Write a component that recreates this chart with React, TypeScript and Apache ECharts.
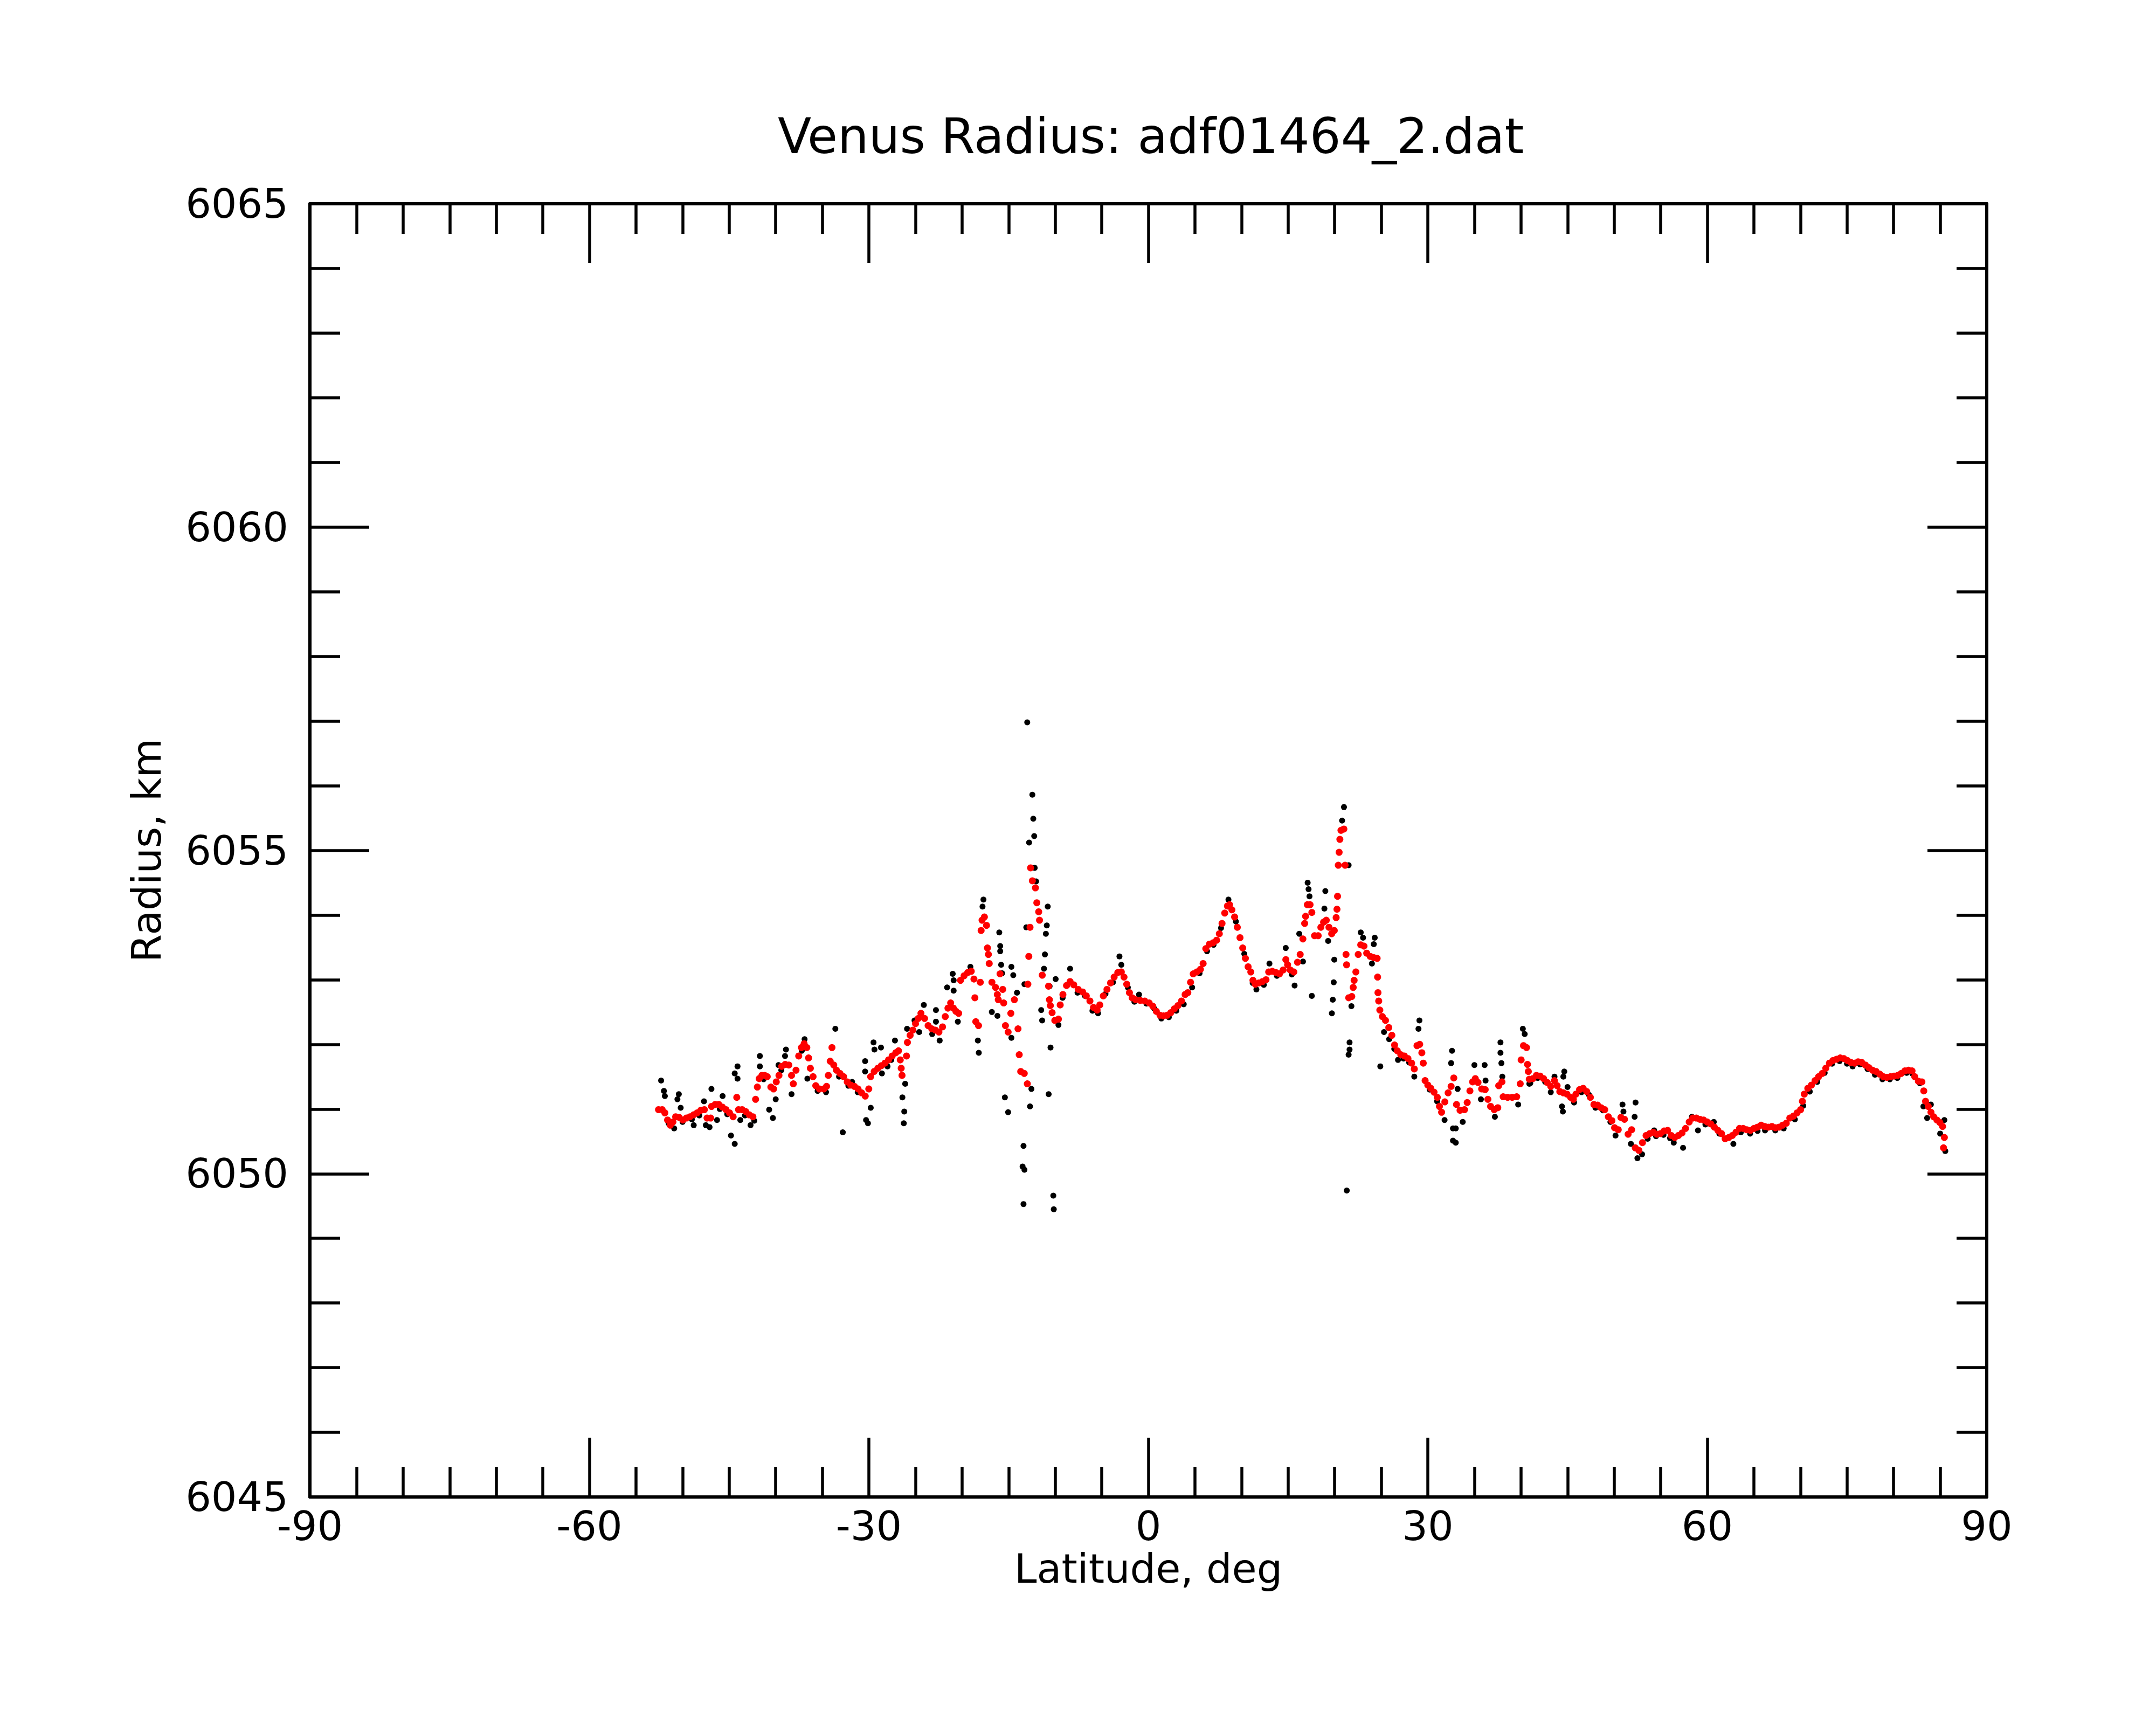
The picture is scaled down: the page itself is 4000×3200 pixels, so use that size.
import React, { useEffect, useRef } from "react";
import * as echarts from "echarts";

// Smoothed radius (red), [latitude deg, radius km]
const smoothSouth: [number, number][] = [
  [-52.58, 6050.99], [-52.19, 6050.99], [-51.9, 6050.94], [-51.61, 6050.83], [-51.32, 6050.75],
  [-51.03, 6050.8], [-50.74, 6050.88], [-50.36, 6050.87], [-49.97, 6050.83], [-49.59, 6050.86],
  [-49.2, 6050.88], [-48.81, 6050.91], [-48.43, 6050.94], [-48.04, 6050.98], [-47.66, 6050.99],
  [-47.37, 6050.86], [-46.98, 6050.86], [-46.89, 6051.04], [-46.5, 6051.07], [-46.11, 6051.07],
  [-45.73, 6051.03], [-45.34, 6050.99], [-44.96, 6050.94], [-44.57, 6050.88], [-44.18, 6051.18],
  [-43.99, 6050.99], [-43.61, 6050.99], [-43.22, 6050.96], [-42.84, 6050.91], [-42.45, 6050.88],
  [-42.16, 6051.15], [-41.97, 6051.34], [-41.77, 6051.47], [-41.48, 6051.52], [-41.19, 6051.52],
  [-40.91, 6051.5], [-40.52, 6051.34], [-40.23, 6051.31], [-39.94, 6051.42], [-39.65, 6051.52],
  [-39.36, 6051.66], [-38.98, 6051.69], [-38.59, 6051.68], [-38.3, 6051.52], [-38.11, 6051.39],
  [-37.82, 6051.6], [-37.53, 6051.82], [-37.24, 6051.95], [-36.95, 6052.01], [-36.66, 6051.95],
  [-36.47, 6051.79], [-36.28, 6051.63], [-35.99, 6051.5], [-35.7, 6051.36], [-35.31, 6051.31],
  [-34.83, 6051.31], [-34.54, 6051.35], [-34.35, 6051.52], [-34.15, 6051.74], [-33.96, 6051.95],
  [-33.77, 6051.68], [-33.48, 6051.6], [-33.1, 6051.55], [-32.71, 6051.5], [-32.32, 6051.42],
  [-31.94, 6051.37], [-31.55, 6051.35], [-31.16, 6051.31], [-30.78, 6051.25], [-30.39, 6051.2],
  [-30.01, 6051.31], [-29.81, 6051.5], [-29.43, 6051.58], [-29.04, 6051.63], [-28.66, 6051.67],
  [-28.27, 6051.71], [-27.89, 6051.76], [-27.5, 6051.82], [-27.11, 6051.87], [-26.82, 6051.9],
  [-26.63, 6051.76], [-26.53, 6051.63], [-26.44, 6051.52], [-25.96, 6051.82], [-25.86, 6052.03],
  [-25.57, 6052.14], [-25.28, 6052.22], [-24.99, 6052.32],
];

const smoothEquator: [number, number][] = [
  [-24.7, 6052.4], [-24.41, 6052.48], [-24.02, 6052.4], [-23.64, 6052.29], [-23.25, 6052.24],
  [-22.86, 6052.22], [-22.48, 6052.19], [-22.09, 6052.27], [-21.8, 6052.43], [-21.51, 6052.56],
  [-21.22, 6052.64], [-20.93, 6052.56], [-20.65, 6052.51], [-20.36, 6052.48], [-20.16, 6052.99],
  [-19.78, 6053.06], [-19.39, 6053.11], [-19.01, 6053.13], [-18.72, 6053.01], [-18.62, 6052.72],
  [-18.52, 6052.35], [-18.23, 6052.29], [-18.04, 6052.96], [-17.95, 6053.76], [-17.85, 6053.92],
  [-17.6, 6053.97], [-17.37, 6053.84], [-17.27, 6053.49], [-17.17, 6053.39], [-17.08, 6053.25],
  [-16.79, 6052.96], [-16.4, 6052.88], [-16.21, 6052.77], [-16.11, 6052.69], [-15.92, 6053.09],
  [-15.63, 6052.85], [-15.53, 6052.64], [-15.34, 6052.29], [-15.05, 6052.19], [-14.76, 6052.48],
  [-14.38, 6052.69], [-13.99, 6052.24], [-13.86, 6051.84], [-13.7, 6051.58], [-13.32, 6051.55],
  [-12.99, 6051.39], [-12.93, 6052.93], [-12.83, 6053.36], [-12.7, 6053.81], [-12.64, 6054.73],
  [-12.45, 6054.53], [-12.12, 6054.42], [-11.97, 6054.19], [-11.77, 6054.05], [-11.68, 6053.92],
  [-11.39, 6053.07], [-10.71, 6052.9], [-10.62, 6052.69], [-10.52, 6052.6], [-10.33, 6052.49],
  [-10.04, 6052.37], [-9.65, 6052.39], [-9.46, 6052.61], [-9.17, 6052.77], [-8.78, 6052.91],
  [-8.4, 6052.97], [-8.01, 6052.92], [-7.53, 6052.85], [-7.05, 6052.81], [-6.66, 6052.75],
  [-6.27, 6052.67], [-5.89, 6052.57], [-5.5, 6052.53], [-5.21, 6052.61], [-4.83, 6052.75],
  [-4.44, 6052.85], [-4.06, 6052.95], [-3.67, 6053.04], [-3.28, 6053.11], [-2.9, 6053.12],
  [-2.61, 6053.04], [-2.32, 6052.93], [-2.03, 6052.8], [-1.74, 6052.72], [-1.36, 6052.69],
  [-0.87, 6052.68], [-0.39, 6052.67], [0.09, 6052.64], [0.48, 6052.59], [0.86, 6052.51],
  [1.25, 6052.45], [1.63, 6052.44], [2.02, 6052.45], [2.41, 6052.49], [2.79, 6052.55],
  [3.18, 6052.6], [3.56, 6052.67], [3.95, 6052.77],
  [4.24, 6052.8], [4.53, 6052.96], [4.82, 6053.09], [5.21, 6053.12], [5.59, 6053.16],
  [5.88, 6053.25], [6.17, 6053.48], [6.56, 6053.55], [6.94, 6053.57], [7.33, 6053.61],
  [7.62, 6053.71], [7.91, 6053.87], [8.2, 6054.03], [8.49, 6054.14], [8.72, 6054.16],
  [8.97, 6054.08], [9.26, 6053.97], [9.55, 6053.81], [9.84, 6053.65], [10.13, 6053.49],
  [10.42, 6053.33], [10.71, 6053.2], [11.0, 6053.12], [11.23, 6052.99], [11.48, 6052.93],
  [11.86, 6052.95], [12.25, 6052.97], [12.63, 6053.0], [12.92, 6053.12], [13.31, 6053.13],
  [13.7, 6053.11], [14.08, 6053.09], [14.47, 6053.15], [14.76, 6053.31], [14.95, 6053.23],
  [15.24, 6053.15], [15.62, 6053.12], [16.01, 6053.27], [16.3, 6053.39], [16.59, 6053.63],
  [16.78, 6053.87], [16.88, 6053.98], [17.07, 6054.16], [17.36, 6054.16], [17.55, 6054.04],
  [17.84, 6053.68], [18.23, 6053.68], [18.52, 6053.81], [18.81, 6053.89], [19.1, 6053.92],
  [19.39, 6053.81], [19.68, 6053.71], [19.96, 6053.76], [20.16, 6053.96], [20.25, 6054.09],
  [20.31, 6054.29], [20.39, 6054.77], [20.48, 6054.97], [20.56, 6055.17], [20.68, 6055.31],
  [20.99, 6055.33], [21.12, 6054.77], [21.22, 6053.39], [21.28, 6053.23], [21.51, 6052.72],
  [21.84, 6052.74], [21.99, 6052.88], [22.09, 6052.99], [22.28, 6053.12], [22.53, 6053.39],
  [22.8, 6053.54], [23.15, 6053.52], [23.44, 6053.41], [23.82, 6053.36], [24.21, 6053.34],
  [24.56, 6053.33], [24.61, 6053.04], [24.65, 6052.8], [24.73, 6052.67], [24.85, 6052.53],
];

const smoothNorth: [number, number][] = [
  [25.12, 6052.43], [25.46, 6052.37], [25.81, 6052.26], [26.14, 6052.14], [26.43, 6051.99],
  [26.72, 6051.9], [27.1, 6051.84], [27.49, 6051.82], [27.87, 6051.78], [28.26, 6051.71],
  [28.55, 6051.62], [28.84, 6051.98], [29.13, 6052.0], [29.36, 6051.87], [29.51, 6051.71],
  [29.71, 6051.44], [30.0, 6051.37], [30.32, 6051.32], [30.67, 6051.26], [31.02, 6051.18],
  [31.25, 6051.04], [31.48, 6050.95], [31.83, 6051.11], [32.18, 6051.25], [32.5, 6051.35],
  [32.79, 6051.48], [33.08, 6051.07], [33.46, 6050.98], [33.94, 6050.99], [34.23, 6051.1],
  [34.52, 6051.28], [34.81, 6051.42], [35.1, 6051.47], [35.39, 6051.41], [35.78, 6051.31],
  [36.16, 6051.3], [36.45, 6051.15], [36.74, 6051.04], [37.13, 6050.99], [37.51, 6051.02],
  [37.61, 6051.36], [37.96, 6051.42], [38.09, 6051.19], [38.57, 6051.18], [39.06, 6051.18],
  [39.54, 6051.19], [39.92, 6051.39], [40.02, 6051.76], [40.27, 6051.98], [40.6, 6051.95],
  [40.7, 6051.69], [40.79, 6051.58], [40.89, 6051.46], [41.27, 6051.47], [41.66, 6051.52],
  [42.05, 6051.51], [42.43, 6051.47], [42.82, 6051.41], [43.2, 6051.35], [43.59, 6051.44],
  [43.88, 6051.36], [44.17, 6051.27], [44.55, 6051.25], [44.94, 6051.23], [45.33, 6051.18],
  [45.62, 6051.15], [45.9, 6051.23], [46.29, 6051.3], [46.68, 6051.32], [47.06, 6051.27],
  [47.45, 6051.18], [47.83, 6051.07], [48.22, 6051.06], [48.6, 6051.02], [48.99, 6050.99],
  [49.38, 6050.88], [49.76, 6050.82], [50.05, 6050.71], [50.44, 6050.68], [50.73, 6050.87],
  [51.11, 6050.84], [51.5, 6050.61], [51.88, 6050.68], [52.27, 6050.4], [52.66, 6050.36],
  [53.04, 6050.48], [53.43, 6050.59], [53.81, 6050.62], [54.2, 6050.64], [54.59, 6050.61],
  [54.97, 6050.62], [55.36, 6050.66], [55.74, 6050.67], [56.13, 6050.59], [56.51, 6050.56],
  [56.9, 6050.59], [57.29, 6050.63], [57.67, 6050.7], [58.06, 6050.8], [58.44, 6050.86],
  [58.83, 6050.86], [59.21, 6050.84], [59.6, 6050.83], [59.99, 6050.8], [60.37, 6050.77],
  [60.76, 6050.72], [61.14, 6050.67], [61.53, 6050.62], [61.92, 6050.54], [62.31, 6050.56],
  [62.69, 6050.59], [63.08, 6050.64], [63.46, 6050.7], [63.85, 6050.7], [64.23, 6050.68],
  [64.62, 6050.67], [65.01, 6050.7], [65.39, 6050.72], [65.78, 6050.75], [66.16, 6050.73],
  [66.55, 6050.72], [66.94, 6050.73], [67.32, 6050.71], [67.71, 6050.72], [68.09, 6050.75],
  [68.48, 6050.78], [68.86, 6050.86], [69.25, 6050.89], [69.64, 6050.94], [70.02, 6050.99],
  [70.21, 6051.12], [70.41, 6051.23], [70.79, 6051.32], [71.18, 6051.37], [71.57, 6051.44],
  [71.95, 6051.5], [72.34, 6051.55], [72.72, 6051.63], [73.11, 6051.71], [73.49, 6051.75],
  [73.88, 6051.77], [74.27, 6051.79], [74.65, 6051.78], [75.04, 6051.75], [75.42, 6051.72],
  [75.81, 6051.71], [76.19, 6051.73], [76.58, 6051.72], [76.97, 6051.68], [77.35, 6051.64],
  [77.74, 6051.6], [78.12, 6051.58], [78.51, 6051.54], [78.9, 6051.5], [79.28, 6051.49],
  [79.67, 6051.5], [80.05, 6051.51], [80.44, 6051.52], [80.82, 6051.55], [81.21, 6051.59],
  [81.6, 6051.6], [81.98, 6051.59], [82.27, 6051.5], [82.66, 6051.43], [83.04, 6051.42],
  [83.24, 6051.28], [83.43, 6051.12], [83.72, 6051.04], [84.01, 6050.95], [84.3, 6050.88],
  [84.65, 6050.83], [84.97, 6050.79], [85.26, 6050.73], [85.45, 6050.56], [85.36, 6050.4],
];

// Raw radius (black), [latitude deg, radius km]
const rawSouth: [number, number][] = [
  [-52.3, 6051.44], [-52.0, 6051.28], [-51.9, 6051.2], [-50.9, 6050.7], [-50.55, 6051.15],
  [-50.4, 6051.23], [-50.2, 6051.02], [-48.8, 6050.75], [-47.7, 6051.12], [-47.5, 6050.75],
  [-47.1, 6050.72], [-46.9, 6051.31], [-46.3, 6050.83], [-45.7, 6051.2], [-44.8, 6050.59],
  [-44.4, 6050.46], [-44.4, 6051.55], [-44.1, 6051.66], [-44.1, 6051.47], [-43.8, 6050.83],
  [-42.7, 6050.75], [-41.7, 6051.82], [-41.7, 6051.66], [-40.7, 6050.99], [-40.3, 6050.86],
  [-40.0, 6051.15], [-39.7, 6051.68], [-38.9, 6051.92], [-39.0, 6051.82], [-38.3, 6051.23],
  [-36.9, 6052.08], [-36.6, 6051.47], [-33.6, 6052.24], [-32.8, 6050.64], [-31.8, 6051.42],
  [-30.4, 6051.74], [-30.4, 6051.58], [-30.3, 6050.83], [-30.1, 6050.78], [-29.8, 6051.02],
  [-29.5, 6052.03], [-29.4, 6051.92], [-28.7, 6051.95], [-28.6, 6051.55], [-27.2, 6052.06],
  [-26.4, 6051.18], [-26.2, 6050.96], [-26.25, 6050.78], [-26.1, 6051.39], [-25.9, 6052.24],
  [-25.1, 6052.37],
  [-51.5, 6050.78], [-50.0, 6050.8], [-49.0, 6050.84], [-48.2, 6050.9], [-46.0, 6051.0],
  [-45.2, 6050.92], [-43.3, 6050.9], [-42.3, 6050.82], [-41.3, 6051.46], [-39.4, 6051.6],
  [-37.2, 6051.9], [-35.5, 6051.28], [-34.6, 6051.26], [-33.2, 6051.5], [-32.2, 6051.36],
  [-31.2, 6051.26], [-28.0, 6051.66], [-27.6, 6051.76],
];

const rawEquator: [number, number][] = [
  [-24.1, 6052.61], [-24.6, 6052.19], [-23.2, 6052.16], [-22.8, 6052.53], [-22.8, 6052.35],
  [-22.4, 6052.06], [-21.6, 6052.88], [-21.0, 6053.09], [-20.9, 6052.99], [-20.9, 6052.83],
  [-20.45, 6052.35], [-19.1, 6053.2], [-18.3, 6052.06], [-18.2, 6051.87], [-17.7, 6054.24],
  [-17.8, 6054.13], [-16.8, 6052.5], [-16.2, 6052.44], [-16.0, 6053.73], [-15.9, 6053.52],
  [-15.9, 6053.44], [-15.8, 6053.23], [-15.7, 6053.1], [-15.4, 6051.18], [-15.05, 6050.95],
  [-14.7, 6053.2], [-14.5, 6053.07], [-14.7, 6052.1], [-14.1, 6052.8], [-13.4, 6050.43],
  [-13.5, 6050.11], [-13.3, 6050.06], [-13.4, 6049.53], [-13.0, 6056.98], [-12.45, 6055.86],
  [-12.35, 6055.49], [-12.25, 6055.22], [-12.8, 6055.12], [-12.2, 6054.73], [-12.05, 6054.52],
  [-13.1, 6053.81], [-13.3, 6052.93], [-12.55, 6051.31], [-12.7, 6051.04], [-10.8, 6054.13],
  [-10.9, 6053.84], [-11.0, 6053.71], [-11.1, 6053.39], [-11.2, 6053.17], [-11.5, 6052.53],
  [-11.4, 6052.37], [-10.6, 6052.9], [-10.5, 6051.95], [-10.7, 6051.23], [-10.2, 6049.66],
  [-10.15, 6049.45], [-9.95, 6053.01], [-9.65, 6052.3], [-8.4, 6053.17], [-3.1, 6053.36],
  [-2.9, 6053.23], [-1.0, 6052.77],
  [-9.2, 6052.72], [-7.6, 6052.8], [-6.8, 6052.75], [-6.0, 6052.52], [-5.4, 6052.48],
  [-4.6, 6052.78], [-3.8, 6052.96], [-2.2, 6052.88], [-1.5, 6052.66], [-0.2, 6052.63],
  [0.6, 6052.56], [1.4, 6052.4], [2.2, 6052.42], [3.0, 6052.52], [3.8, 6052.62],
  [4.7, 6052.88], [5.5, 6053.1], [6.3, 6053.44], [7.0, 6053.54], [7.8, 6053.8],
  [8.6, 6054.24], [9.4, 6053.9], [10.3, 6053.4], [11.2, 6052.95], [11.6, 6052.85],
  [12.4, 6052.92], [13.0, 6053.25], [13.8, 6053.06], [14.75, 6053.49], [15.4, 6053.08],
  [15.7, 6052.91], [16.2, 6053.71], [16.6, 6053.28], [17.1, 6054.5], [17.2, 6054.4],
  [17.3, 6054.29], [17.55, 6052.75], [19.0, 6054.37], [18.9, 6054.1], [19.3, 6053.6],
  [19.96, 6053.31], [19.9, 6052.96], [19.8, 6052.69], [19.7, 6052.48], [21.0, 6055.67],
  [20.8, 6055.46], [21.5, 6054.77], [21.6, 6052.03], [21.6, 6051.92], [21.5, 6051.84],
  [21.8, 6052.59], [21.3, 6049.74], [22.8, 6053.73], [23.05, 6053.65], [24.3, 6053.65],
  [24.2, 6053.55], [24.0, 6053.25], [24.9, 6051.66],
];

const rawNorth: [number, number][] = [
  [25.3, 6052.19], [25.85, 6052.08], [26.4, 6051.93], [26.8, 6051.76], [27.4, 6051.78],
  [28.0, 6051.72], [28.55, 6051.5], [29.1, 6052.37], [29.0, 6052.24], [30.2, 6051.3],
  [31.0, 6051.12], [32.6, 6051.9], [32.5, 6051.71], [31.8, 6050.83], [32.7, 6050.7],
  [32.7, 6050.51], [33.0, 6050.48], [33.0, 6050.7], [33.2, 6051.31], [33.75, 6050.8],
  [35.0, 6051.68], [36.1, 6051.68], [36.2, 6051.44], [35.7, 6051.15], [37.2, 6050.88],
  [37.8, 6052.03], [37.8, 6051.87], [37.9, 6051.71], [38.0, 6051.5], [39.7, 6051.07],
  [40.2, 6052.24], [40.4, 6052.16], [40.9, 6051.39], [41.0, 6051.4], [41.8, 6051.48],
  [42.6, 6051.42], [43.2, 6051.26], [43.6, 6051.5], [44.65, 6051.58], [44.55, 6051.5],
  [45.0, 6051.34], [44.4, 6051.04], [44.5, 6050.96], [45.7, 6051.1], [46.5, 6051.26],
  [47.3, 6051.22], [48.0, 6051.02], [48.8, 6050.98], [49.6, 6050.8], [50.15, 6050.59],
  [50.9, 6051.07], [51.0, 6050.96], [52.3, 6051.1], [52.2, 6050.88], [51.8, 6050.46],
  [52.5, 6050.24], [53.0, 6050.3], [53.6, 6050.54], [54.3, 6050.67], [54.5, 6050.58],
  [55.3, 6050.6], [56.0, 6050.55], [56.4, 6050.48], [57.4, 6050.4], [58.35, 6050.88],
  [59.0, 6050.67], [59.8, 6050.76], [60.7, 6050.8], [61.3, 6050.62], [62.8, 6050.46],
  [63.6, 6050.64], [64.6, 6050.62], [65.4, 6050.66], [66.2, 6050.67], [67.3, 6050.67],
  [68.2, 6050.7], [69.4, 6050.84], [70.3, 6051.05], [71.0, 6051.27], [71.8, 6051.42],
  [72.6, 6051.56], [73.4, 6051.7], [74.2, 6051.74], [75.0, 6051.7], [75.6, 6051.66],
  [76.4, 6051.69], [77.2, 6051.62], [78.0, 6051.53], [78.8, 6051.46], [79.6, 6051.46],
  [80.4, 6051.48], [81.4, 6051.56], [82.0, 6051.55], [82.8, 6051.4], [83.2, 6051.04],
  [83.6, 6050.86], [84.0, 6051.07], [85.0, 6050.62], [85.45, 6050.83], [85.55, 6050.35],
];

const xTicks = { min: -90, max: 90, interval: 30 };
const yTicks = { min: 6045, max: 6065, interval: 5 };

const FONT = "DejaVu Sans";

export default function App() {
  const ref = useRef<HTMLDivElement>(null);

  useEffect(() => {
    document.body.style.margin = "0";
    if (!ref.current) return;
    const chart = echarts.init(ref.current, null, { renderer: "svg" });

    const axisLine = { show: true, onZero: false, lineStyle: { color: "#000", width: 6 } };
    const tick = { show: true, inside: true, length: 110, lineStyle: { color: "#000", width: 5.5 } };
    const label = { fontSize: 75, color: "#000", fontFamily: FONT, formatter: (v: number) => String(v) };
    const nameStyle = { fontSize: 75, color: "#000", fontFamily: FONT };

    const xBase = {
      type: "value" as const,
      ...xTicks,
      axisLine,
      axisTick: tick,
      minorTick: { show: true, splitNumber: 6, length: 56, lineStyle: { color: "#000", width: 5.5 } },
      splitLine: { show: false },
      minorSplitLine: { show: false },
    };
    const yBase = {
      type: "value" as const,
      ...yTicks,
      axisLine,
      axisTick: tick,
      minorTick: { show: true, splitNumber: 5, length: 56, lineStyle: { color: "#000", width: 5.5 } },
      splitLine: { show: false },
      minorSplitLine: { show: false },
    };

    chart.setOption({
      animation: false,
      backgroundColor: "#fff",
      title: {
        text: "Venus Radius: adf01464_2.dat",
        left: 2130,
        top: 202,
        textAlign: "center",
        textStyle: { fontSize: 91, fontWeight: "normal", color: "#000", fontFamily: FONT },
      },
      grid: { left: 575, right: 314, top: 378, bottom: 423, containLabel: false },
      xAxis: [
        {
          ...xBase,
          position: "bottom",
          axisLabel: { ...label, margin: 16 },
          name: "Latitude, deg",
          nameLocation: "middle",
          nameGap: 92,
          nameTextStyle: nameStyle,
        },
        { ...xBase, position: "top", axisLabel: { show: false } },
      ],
      yAxis: [
        {
          ...yBase,
          position: "left",
          axisLabel: { ...label, margin: 40 },
          name: "Radius, km",
          nameLocation: "middle",
          nameGap: 266,
          nameTextStyle: nameStyle,
        },
        { ...yBase, position: "right", axisLabel: { show: false } },
      ],
      series: [
        {
          type: "scatter",
          name: "raw",
          data: [...rawSouth, ...rawEquator, ...rawNorth],
          symbol: "circle",
          symbolSize: 11,
          itemStyle: { color: "#000", opacity: 1 },
          z: 2,
        },
        {
          type: "scatter",
          name: "smoothed",
          data: [...smoothSouth, ...smoothEquator, ...smoothNorth],
          symbol: "circle",
          symbolSize: 13,
          itemStyle: { color: "#ff0000", opacity: 1 },
          z: 3,
        },
      ],
    });

    return () => chart.dispose();
  }, []);

  return (
    <div
      ref={ref}
      style={{ position: "absolute", left: 0, top: 0, width: 4000, height: 3200, background: "#fff" }}
    />
  );
}
